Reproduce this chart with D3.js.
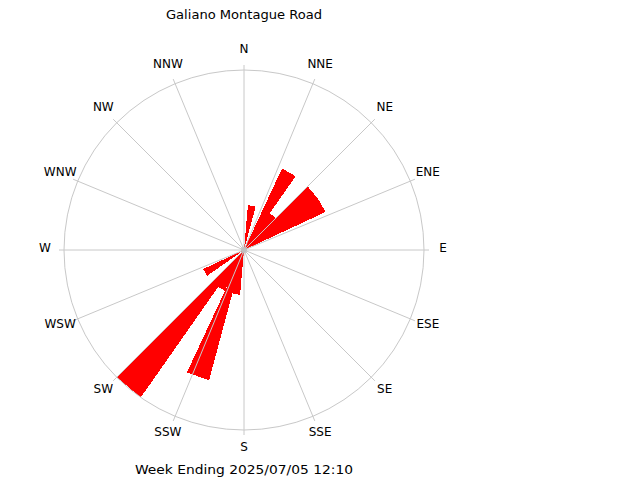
<!DOCTYPE html>
<html>
<head>
<meta charset="utf-8">
<script src="https://cdn.jsdelivr.net/npm/d3@7"></script>
<style>
  html, body { margin: 0; padding: 0; background: #ffffff; }
  svg { display: block; }
  text { font-family: "DejaVu Sans", sans-serif; fill: #000; }
</style>
</head>
<body>
<script>
// ---- data ----
const titleText = "Galiano Montague Road";
const footerText = "Week Ending 2025/07/05 12:10";
const compassLabels = ["N","NNE","NE","ENE","E","ESE","SE","SSE","S","SSW","SW","WSW","W","WNW","NW","NNW"];
// wind direction bins (degrees, bin centre, 10-degree bins) and counts
const windDirections = [10, 30, 40, 50, 60, 190, 200, 210, 220, 240];
const windCounts     = [ 1,  2,  1,  2,  2,   1,   3,   1,   4,   1];
const maxCount = 4;
const binWidth = 10;

// ---- layout ----
const width = 640, height = 480;
const cx = 244, cy = 250;
const outerR = 180;

const svg = d3.select("body").append("svg")
  .attr("width", width).attr("height", height);

const rScale = d3.scaleLinear().domain([0, maxCount]).range([0, outerR]);
const aScale = d3.scaleLinear().domain([0, 360]).range([0, 2 * Math.PI]);

const g = svg.append("g").attr("transform", `translate(${cx},${cy})`);

// wedges
const wedge = d3.lineRadial()
  .angle(d => aScale(d[0]))
  .radius(d => rScale(d[1]))
  .curve(d3.curveLinearClosed);

const data = windDirections.map((d, i) => ({ dir: d, count: windCounts[i] }));
g.selectAll("path.wedge").data(data).enter().append("path")
  .attr("class", "wedge")
  .attr("d", d => wedge([[0, 0], [d.dir - binWidth / 2, d.count], [d.dir + binWidth / 2, d.count]]))
  .attr("fill", "#ff0000")
  .attr("shape-rendering", "crispEdges");

// grid circle
g.append("circle")
  .attr("r", rScale(maxCount))
  .attr("fill", "none")
  .attr("stroke", "#c8c8c8")
  .attr("stroke-width", 1);

// spokes
const spokeExt = 5;
compassLabels.forEach((lab, i) => {
  const ang = aScale(i * 22.5);
  const r = rScale(maxCount) + spokeExt;
  g.append("line")
    .attr("x1", 0).attr("y1", 0)
    .attr("x2", r * Math.sin(ang)).attr("y2", -r * Math.cos(ang))
    .attr("stroke", "#c8c8c8")
    .attr("stroke-width", 1);
});

// centre dot
g.append("circle").attr("r", 3).attr("fill", "#c0c0c0");

// compass labels
const labelR = rScale(maxCount) + 19;
compassLabels.forEach((lab, i) => {
  const ang = aScale(i * 22.5);
  g.append("text")
    .attr("x", labelR * Math.sin(ang))
    .attr("y", -labelR * Math.cos(ang) + 2)
    .attr("text-anchor", "middle")
    .attr("font-size", 12)
    .text(lab);
});

// title and footer
svg.append("text")
  .attr("x", cx).attr("y", 19)
  .attr("text-anchor", "middle")
  .attr("font-size", 12)
  .attr("textLength", 156)
  .attr("lengthAdjust", "spacingAndGlyphs")
  .text(titleText);

svg.append("text")
  .attr("x", cx).attr("y", 474)
  .attr("text-anchor", "middle")
  .attr("font-size", 13)
  .attr("textLength", 218)
  .attr("lengthAdjust", "spacingAndGlyphs")
  .text(footerText);
</script>
</body>
</html>
